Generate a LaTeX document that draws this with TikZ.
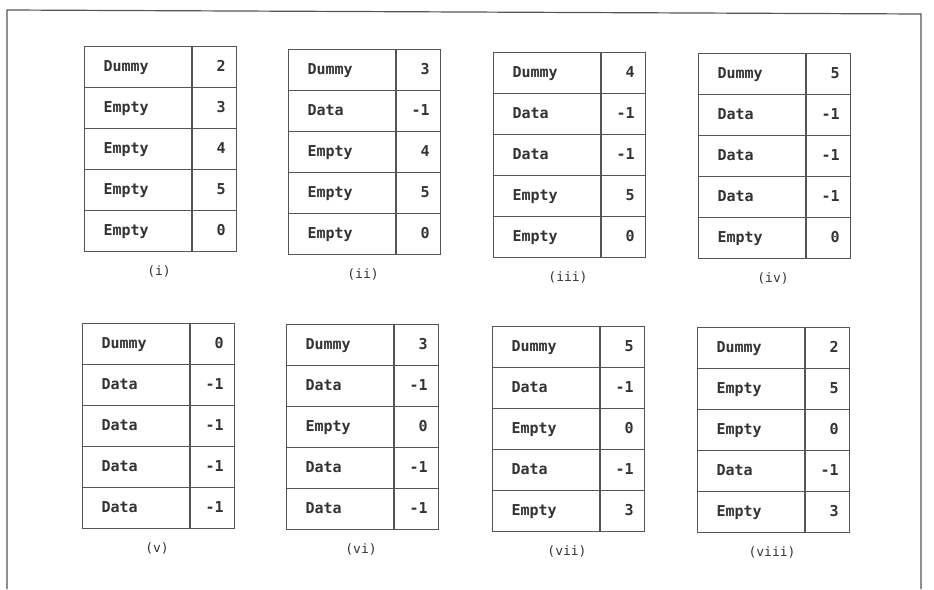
\documentclass[tikz,border=0pt]{standalone}
\usepackage{fontspec}
\newfontfamily\monofont{DejaVu Sans Mono}
\definecolor{gridline}{HTML}{555555}
\definecolor{inktext}{HTML}{333333}
\tikzset{
  cellfont/.style={font=\monofont\bfseries\fontsize{15}{15}\selectfont, text=inktext},
  lcell/.style={draw=gridline, line width=1.1pt, minimum height=41pt, inner xsep=19pt, inner ysep=0pt,
    text height=11pt, text depth=3pt,
    text width=69pt, align=left, anchor=north west, cellfont},
  rcell/.style={draw=gridline, line width=1.1pt, minimum height=41pt, inner xsep=11pt, inner ysep=0pt,
    text height=11pt, text depth=3pt,
    text width=22pt, align=right, anchor=north west, cellfont},
  caption/.style={font=\monofont\fontsize{13}{13}\selectfont, text=inktext, inner sep=0pt},
  frameline/.style={draw=gridline, line width=1.2pt}
}
\newcommand\memtable[5]{%
  \foreach \lab/\num [count=\i] in {#4} {
    \node[lcell] (#1-l\i) at (#2, #3 + 41*\i - 41) {\lab};
    \node[rcell] (#1-r\i) at (#1-l\i.north east) {\num};
  }
  \node[caption] (#1-cap) at (#2 + 75, #3 + 225) {#5};
}
\begin{document}
\begin{tikzpicture}[x=1pt,y=-1pt]
\useasboundingbox (0,0) rectangle (934,589);
\coordinate (fbl) at (7,589);
\coordinate (ftl) at (7,10);
\coordinate (ftr) at (921,14);
\coordinate (fbr) at (921,589);
\draw[frameline] (fbl) -- (ftl) -- (ftr) -- (fbr);
\memtable{t1}{84}{46}{Dummy/2,Empty/3,Empty/4,Empty/5,Empty/0}{(i)}
\memtable{t2}{288}{49}{Dummy/3,Data/-1,Empty/4,Empty/5,Empty/0}{(ii)}
\memtable{t3}{493}{52}{Dummy/4,Data/-1,Data/-1,Empty/5,Empty/0}{(iii)}
\memtable{t4}{698}{53}{Dummy/5,Data/-1,Data/-1,Data/-1,Empty/0}{(iv)}
\memtable{t5}{82}{323}{Dummy/0,Data/-1,Data/-1,Data/-1,Data/-1}{(v)}
\memtable{t6}{286}{324}{Dummy/3,Data/-1,Empty/0,Data/-1,Data/-1}{(vi)}
\memtable{t7}{492}{326}{Dummy/5,Data/-1,Empty/0,Data/-1,Empty/3}{(vii)}
\memtable{t8}{697}{327}{Dummy/2,Empty/5,Empty/0,Data/-1,Empty/3}{(viii)}
\end{tikzpicture}
\end{document}
